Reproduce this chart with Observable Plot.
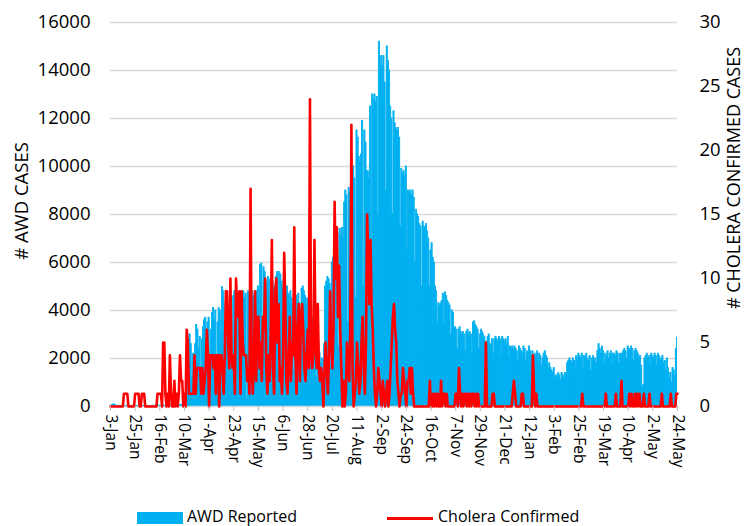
<!DOCTYPE html>
<html>
<head>
<meta charset="utf-8">
<script src="https://cdn.jsdelivr.net/npm/d3@7"></script>
<script src="https://cdn.jsdelivr.net/npm/@observablehq/plot@0.6"></script>
<style>
  html, body { margin: 0; padding: 0; background: #fff; overflow: hidden; }
  #wrap { position: relative; width: 745px; height: 526px; font-family: "Open Sans", sans-serif; }
  #legend span { position: absolute; }
</style>
</head>
<body>
<div id="wrap">
  <div id="chart"></div>
  <div id="legend"></div>
</div>
<script>
// Daily series starting 3-Jan (year 1) through 24-May (year 2)
const startDate = "2017-01-03";
const tickStep = 22; // days between x tick labels
const leftTicks = [0, 2000, 4000, 6000, 8000, 10000, 12000, 14000, 16000];
const rightTicks = [0, 5, 10, 15, 20, 25, 30];
const seriesNames = ["AWD Reported", "Cholera Confirmed"];

const awd = [
  20,30,60,90,70,40,20,30,20,10,
  20,30,20,10,20,30,20,10,20,20,
  30,20,10,20,30,20,10,20,30,20,
  20,10,20,30,20,20,10,20,30,20,
  30,20,20,40,30,20,30,40,30,20,
  40,30,20,40,50,40,30,50,40,30,
  50,60,40,60,80,70,150,300,800,1500,
  2800,3000,2600,1200,2200,2000,2600,3400,3200,2400,
  2900,1500,2800,3300,3600,3700,2500,3500,3700,1800,
  3200,3900,4100,3600,4000,1500,3500,4100,4000,3000,
  4970,4800,1200,4300,4500,4200,3800,4400,4200,2000,
  4600,4800,4500,4200,4700,4500,1800,4300,4600,4800,
  4500,4700,300,4800,4600,4900,4400,4800,4600,1500,
  4700,4800,5000,4500,5900,5950,1400,5800,5600,5200,
  4800,5400,5300,1600,4800,5200,5000,4900,5400,5600,
  1700,5600,5500,5200,4900,5300,5500,1800,5000,4700,
  4600,4800,4500,4200,1500,4800,4600,4400,4700,4300,
  2000,4900,5000,4800,4600,4200,4500,1600,4000,3800,
  3500,3700,3300,3000,1200,2800,2600,2200,1800,2000,
  1000,2600,5000,5200,5400,5300,5100,1800,6000,6200,
  6500,6800,7000,7200,2500,7400,7100,7450,7000,8500,
  9000,8800,3500,9100,8900,9000,8200,10000,9500,4500,
  11500,11200,10400,10200,10500,11900,5000,11500,11000,9800,
  9800,9500,12500,6000,13000,12800,13000,12700,12900,8000,
  15200,14000,14600,14200,14600,13500,9000,15000,14400,14000,
  12500,12000,8000,12300,11800,11600,11500,11600,11200,7500,
  9900,9700,9800,9600,10000,6500,9000,8900,9000,8800,
  9000,8700,6000,8200,8000,7900,7600,7500,5000,7700,
  7500,7400,7600,7300,7000,5000,6500,6800,6200,6000,
  5000,4800,3500,4300,4200,4300,4400,4700,3400,4750,
  4600,4400,4300,4200,3000,4000,3900,3300,3300,3200,
  2400,3200,3300,3100,3000,3100,3000,2300,3100,3200,
  3000,3100,3000,2200,3500,3550,3400,3300,3200,2400,
  3000,3200,3100,3000,2900,2700,2200,2900,3000,2600,
  2500,2800,2200,2800,2900,2800,2700,2900,2800,2100,
  2900,2800,2700,2800,2600,2900,2000,2500,2400,2500,
  2400,2500,2400,2300,1900,2500,2400,2300,2200,2500,
  2400,1900,2300,2200,2500,2300,2100,2300,1700,2200,
  2100,2300,2000,2200,2100,1700,2000,2200,2300,2100,
  2000,1600,1800,1600,1500,1400,1600,1200,1300,1200,
  1400,1300,1100,1400,1300,1200,1400,1300,1800,1900,
  2000,1900,1800,2000,1900,1500,2100,2000,2200,2100,
  2000,2200,1600,2100,2000,2200,2000,1900,2100,1500,
  2000,2100,1900,2000,1800,2300,2600,2400,2200,2500,
  2300,1800,2200,2100,2300,2000,2200,2300,1700,2200,
  2200,2100,2300,2200,1800,2200,2100,2200,2300,2400,
  2300,2000,2500,2400,2300,2500,2400,1900,2300,2400,
  2300,2200,2000,2100,1700,800,900,2000,2100,2200,
  2000,2100,1800,2200,2100,2000,2200,2100,1700,2200,
  2100,1900,2000,2100,1800,1900,1500,2000,1600,1200,
  1400,1000,1600,1500,1300,2400,2870
];

const cholera = [
  0,0,0,0,0,0,0,0,0,0,
  0,0,1,1,1,1,0,0,0,0,
  0,0,1,1,1,1,0,0,1,1,
  1,0,0,0,0,0,0,0,0,0,
  0,0,1,1,1,1,0,5,5,1,
  0,1,0,4,1,0,0,2,0,1,
  0,1,4,2,2,0,1,0,6,5,
  1,1,1,1,1,4,1,3,3,3,
  3,1,3,1,2,3,6,4,0,4,
  4,4,3,4,1,4,4,0,4,4,
  3,1,4,9,9,5,3,10,4,3,
  4,1,10,8,7,9,1,9,5,4,
  4,4,2,3,1,17,3,1,4,9,
  2,7,7,3,5,2,7,6,10,3,
  1,4,2,6,13,3,1,9,10,5,
  8,2,3,1,4,12,8,2,1,4,
  7,2,5,4,14,4,1,6,8,2,
  7,8,6,3,2,4,6,3,24,4,
  3,4,13,5,3,8,3,2,3,2,
  0,3,5,3,1,4,9,5,3,6,
  16,10,14,7,11,6,3,0,2,0,
  1,5,3,2,6,22,3,0,1,2,
  5,3,1,2,5,7,3,1,5,15,
  12,8,13,8,6,3,1,0,1,3,
  2,1,0,2,1,0,1,2,0,1,
  3,5,7,8,6,5,2,1,0,1,
  1,3,2,1,0,2,2,3,1,3,
  1,0,0,0,0,0,0,0,0,0,
  0,0,0,0,0,2,0,0,1,0,
  1,0,1,0,0,2,0,1,1,0,
  1,0,0,0,0,0,0,0,1,1,
  0,3,1,0,1,0,1,1,0,1,
  0,1,0,1,1,0,1,0,1,0,
  0,0,0,0,0,5,0,0,0,0,
  0,1,1,0,0,0,0,0,0,0,
  0,0,0,0,0,0,0,0,0,1,
  2,1,0,0,0,0,0,1,1,0,
  0,0,0,0,0,0,0,4,1,0,
  1,0,0,0,0,0,0,0,0,0,
  0,0,0,0,0,0,0,0,0,0,
  0,0,0,0,0,0,0,0,0,0,
  0,0,0,0,0,0,0,0,0,0,
  0,1,0,0,0,0,0,0,0,0,
  0,0,0,0,0,0,0,0,0,0,
  0,0,1,0,0,0,0,0,0,0,
  0,1,0,0,0,0,2,0,0,0,
  0,0,0,1,0,1,0,0,1,0,
  1,0,1,0,0,0,1,0,0,0,
  0,1,0,0,0,0,0,0,0,0,
  0,0,1,0,0,0,0,0,0,0,
  1,0,0,0,0,1,1
];

const start = new Date(startDate + "T00:00:00Z");
const n = Math.min(awd.length, cholera.length);
const dates = d3.range(n).map(i => d3.utcDay.offset(start, i));
const data = dates.map((date, i) => ({date, awd: awd[i], cholera: cholera[i]}));
const endDate = dates[n - 1];
const tickDates = d3.range(0, n, tickStep).map(i => dates[i]);
const yMax = leftTicks[leftTicks.length - 1];
const rMax = rightTicks[rightTicks.length - 1];
const K = yMax / rMax; // right-axis unit expressed in left-axis units
const halfDay = 12 * 3600 * 1000;

const W = 745, H = 506;
const fmt = d3.utcFormat("%-d-%b");

const chart = Plot.plot({
  width: W,
  height: H,
  marginTop: 22,
  marginBottom: 100,
  marginLeft: 110,
  marginRight: 68,
  style: {fontFamily: "Open Sans, sans-serif", fontSize: "18.5px", color: "#000", background: "#fff"},
  x: {type: "utc", domain: [start, endDate]},
  y: {domain: [0, yMax]},
  marks: [
    Plot.gridY(leftTicks.filter(v => v > 0), {stroke: "#d9d9d9", strokeOpacity: 1, strokeWidth: 1.6}),
    Plot.rectY(data, {
      x1: d => new Date(+d.date - halfDay),
      x2: d => new Date(+d.date + halfDay),
      y: "awd",
      fill: "#00b0f0",
      stroke: "#00b0f0",
      strokeWidth: 0.9,
      clip: true
    }),
    Plot.ruleY([0], {stroke: "#d9d9d9", strokeWidth: 1.6}),
    Plot.lineY(data, {x: "date", y: d => d.cholera * K, stroke: "#ff0000", strokeWidth: 2.6, strokeLinejoin: "round"}),
    Plot.axisX({
      ticks: tickDates,
      tickFormat: fmt,
      tickRotate: 90,
      tickSize: 5,
      tickPadding: 3,
      fontSize: 15.5,
      stroke: "#bfbfbf",
      fill: "#000",
      label: null
    }),
    Plot.axisY({
      anchor: "left",
      ticks: leftTicks,
      tickFormat: d => String(d),
      tickSize: 0,
      tickPadding: 20,
      fill: "#000",
      label: null
    }),
    Plot.axisY({
      anchor: "right",
      ticks: rightTicks.map(v => v * K),
      tickFormat: d => String(Math.round(d / K)),
      tickSize: 0,
      tickPadding: 22,
      fill: "#000",
      label: null
    })
  ]
});

const svg = d3.select(chart);
svg.append("text")
  .attr("transform", "translate(28,201) rotate(-90)")
  .attr("text-anchor", "middle")
  .attr("font-family", "Open Sans, sans-serif")
  .attr("font-size", 18.5)
  .attr("fill", "#000")
  .text("# AWD CASES");
svg.append("text")
  .attr("transform", "translate(740,178) rotate(-90)")
  .attr("text-anchor", "middle")
  .attr("font-family", "Open Sans, sans-serif")
  .attr("font-size", 18)
  .attr("fill", "#000")
  .text("# CHOLERA CONFIRMED CASES");

document.getElementById("chart").appendChild(chart);

// Legend (HTML, below the SVG)
const legend = document.getElementById("legend");
legend.style.cssText = "position:absolute;left:0;top:0;width:745px;height:526px;pointer-events:none;font-family:'Open Sans',sans-serif;font-size:16px;color:#000;";
legend.innerHTML = `
  <span style="left:137px;top:512px;width:46px;height:12px;background:#00b0f0;"></span>
  <span style="left:187px;top:508px;line-height:16px;white-space:nowrap;">${seriesNames[0]}</span>
  <span style="left:387px;top:517px;width:46px;height:2.5px;background:#ff0000;"></span>
  <span style="left:438px;top:508px;line-height:16px;white-space:nowrap;">${seriesNames[1]}</span>
`;
</script>
</body>
</html>
